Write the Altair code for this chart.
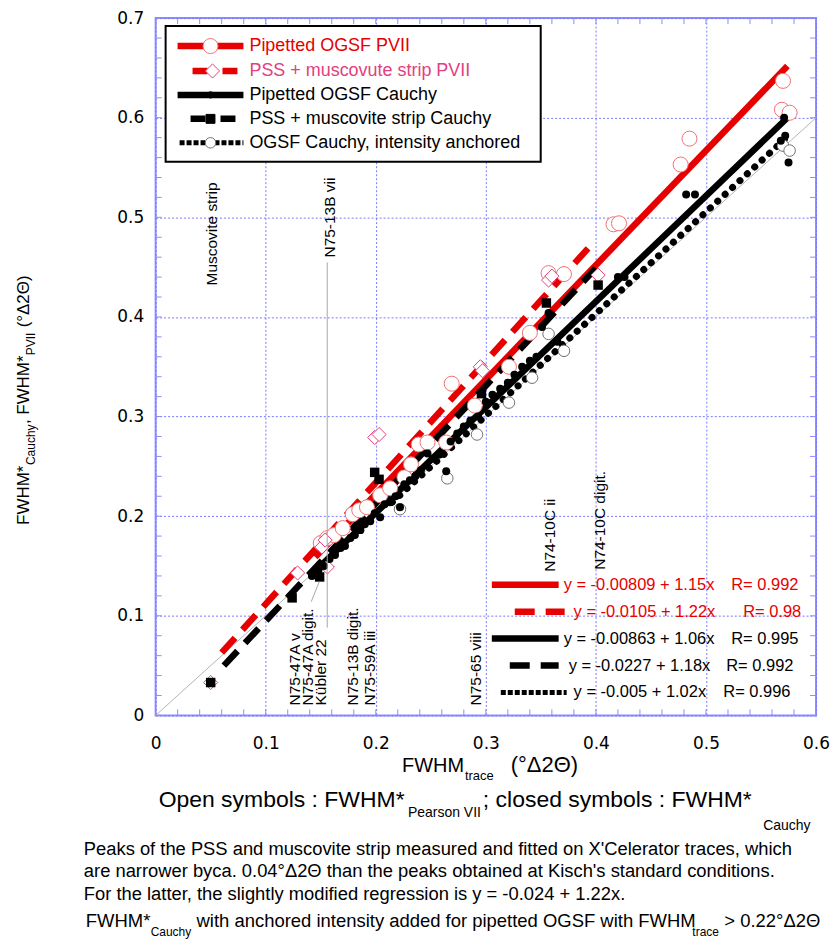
import altair as alt
import pandas as pd

# ---------------- data ----------------
# Pipetted OGSF, FWHM* Pearson VII  (open red circles)
ogsf_pvii_x = [0.150, 0.156, 0.162, 0.170, 0.179, 0.185, 0.192, 0.204, 0.213, 0.226, 0.232, 0.239, 0.247, 0.264,
               0.269, 0.290, 0.321, 0.340, 0.357, 0.371, 0.416, 0.421, 0.477, 0.485, 0.570, 0.569, 0.576]
ogsf_pvii_y = [0.173, 0.178, 0.181, 0.188, 0.202, 0.206, 0.209, 0.221, 0.228, 0.239, 0.252, 0.272, 0.274, 0.274,
               0.333, 0.311, 0.350, 0.384, 0.444, 0.443, 0.493, 0.494, 0.553, 0.579, 0.637, 0.608, 0.605]

# PSS + muscovite strip, Pearson VII (open pink diamonds)
pss_pvii_x = [0.050, 0.129, 0.151, 0.156, 0.154, 0.199, 0.203, 0.295, 0.297, 0.357, 0.360, 0.402]
pss_pvii_y = [0.033, 0.143, 0.169, 0.149, 0.176, 0.279, 0.282, 0.350, 0.346, 0.437, 0.441, 0.442]

# Pipetted OGSF, FWHM* Cauchy (small black dots)
ogsf_cau_x = [0.142, 0.148, 0.153, 0.158, 0.163, 0.168, 0.172, 0.177, 0.181, 0.186, 0.190, 0.195, 0.199, 0.204,
              0.208, 0.213, 0.218, 0.222, 0.226, 0.231, 0.236, 0.241, 0.247, 0.252, 0.258, 0.264, 0.268, 0.274,
              0.280, 0.286, 0.293, 0.300, 0.306, 0.313, 0.320, 0.326, 0.333, 0.340, 0.346, 0.351, 0.357, 0.365,
              0.420, 0.426, 0.482, 0.490, 0.568, 0.572, 0.571, 0.575]
ogsf_cau_y = [0.140, 0.146, 0.150, 0.157, 0.161, 0.168, 0.170, 0.178, 0.181, 0.186, 0.192, 0.195, 0.203, 0.199,
              0.212, 0.214, 0.220, 0.209, 0.232, 0.236, 0.240, 0.246, 0.263, 0.258, 0.262, 0.245, 0.275, 0.283,
              0.290, 0.296, 0.300, 0.315, 0.322, 0.328, 0.334, 0.342, 0.350, 0.356, 0.360, 0.390, 0.404, 0.375,
              0.440, 0.440, 0.523, 0.523, 0.577, 0.582, 0.600, 0.555]

# PSS + muscovite strip, FWHM* Cauchy (black squares)
pss_cau_x = [0.050, 0.124, 0.149, 0.199, 0.203, 0.296, 0.355, 0.402]
pss_cau_y = [0.033, 0.118, 0.139, 0.244, 0.237, 0.323, 0.414, 0.432]

# OGSF Cauchy, intensity anchored (open grey circles)
anch_x = [0.222, 0.265, 0.292, 0.321, 0.342, 0.357, 0.371, 0.570, 0.576]
anch_y = [0.207, 0.238, 0.282, 0.314, 0.339, 0.383, 0.366, 0.572, 0.567]

# regression lines: end points
fit_x0 = [0.145, 0.060, 0.145, 0.062, 0.215]
fit_y0 = [0.159, 0.063, 0.145, 0.050, 0.214]
fit_x1 = [0.574, 0.393, 0.574, 0.400, 0.576]
fit_y1 = [0.652, 0.469, 0.600, 0.449, 0.583]

eq_text = ["y = -0.00809 + 1.15x", "y = -0.0105 + 1.22x", "y = -0.00863 + 1.06x",
           "y = -0.0227 + 1.18x", "y = -0.005 + 1.02x"]
r_text = ["R= 0.992", "R= 0.98", "R= 0.995", "R= 0.992", "R= 0.996"]

legend_labels = ["Pipetted OGSF PVII", "PSS + muscovute strip PVII", "Pipetted OGSF Cauchy",
                 "PSS + muscovite strip Cauchy", "OGSF Cauchy, intensity anchored"]

x_ticks = [0.0, 0.1, 0.2, 0.3, 0.4, 0.5, 0.6]
y_ticks = [0.0, 0.1, 0.2, 0.3, 0.4, 0.5, 0.6, 0.7]
x_minor = [i / 50 for i in range(31)]
y_minor = [i / 50 for i in range(36)]

sample_labels = ["Muscovite strip", "N75-13B vii", "N75-47A v", "N75-47A digit.", "Kübler 22",
                 "N75-13B digit.", "N75-59A iii", "N75-65 viii", "N74-10C ii", "N74-10C digit."]

# ---------------- styles / layout ----------------
W, H = 662, 699
FONT = "Liberation Sans"
RED = "#e60000"
PINK = "#e2407e"
CIRC = "#f07070"
GRID = "#7878ff"
FRAME = "#8c8cff"

xs = alt.Scale(domain=[0, 0.6], nice=False, zero=False)
ys = alt.Scale(domain=[0, 0.7], nice=False, zero=False)
lab = "datum.value == 0 ? '0' : format(datum.value, '.1f')"
xaxis = alt.Axis(values=x_ticks, title=None, domain=False, ticks=False, tickSize=0, grid=True,
                 gridColor=GRID, gridOpacity=1, gridDash=[2, 2], gridWidth=1, labelFont="DejaVu Sans",
                 labelFontSize=17, labelColor="black", labelPadding=20, labelExpr=lab,
                 labelOverlap=False, labelFlush=False)
yaxis = alt.Axis(values=y_ticks, title=None, domain=False, ticks=False, tickSize=0, grid=True,
                 gridColor=GRID, gridOpacity=1, gridDash=[2, 2], gridWidth=1, labelFont="DejaVu Sans",
                 labelFontSize=17, labelColor="black", labelPadding=12, labelExpr=lab,
                 labelOverlap=False, labelFlush=False)


def X(f):
    return alt.X(f, type="quantitative", scale=xs, axis=xaxis)


def Y(f):
    return alt.Y(f, type="quantitative", scale=ys, axis=yaxis)


one = pd.DataFrame({"k": [0]})


def txt(s, x, y, size=16, color="black", align="left", baseline="alphabetic", angle=None, font=FONT):
    kw = dict(text=s, align=align, baseline=baseline, fontSize=size, color=color, font=font)
    if angle is not None:
        kw["angle"] = angle
    return alt.Chart(one).mark_text(**kw).encode(x=alt.value(x), y=alt.value(y))


def hrule(x1, x2, y, color, width, dash=None, cap="butt"):
    kw = dict(color=color, strokeWidth=width, strokeCap=cap)
    if dash:
        kw["strokeDash"] = dash
    return alt.Chart(one).mark_rule(**kw).encode(x=alt.value(x1), x2=alt.value(x2), y=alt.value(y))


def sym(x, y, shape, size, fill, stroke, sw=1.0):
    return alt.Chart(one).mark_point(shape=shape, size=size, filled=True, fill=fill, stroke=stroke,
                                     strokeWidth=sw, opacity=1).encode(x=alt.value(x), y=alt.value(y))


layers = []

# 1:1 diagonal
diag = pd.DataFrame({"x0": [0.0], "y0": [0.0], "x1": [0.6], "y1": [0.6]})
layers.append(alt.Chart(diag).mark_rule(color="#b4b4b4", strokeWidth=1).encode(
    x=X("x0"), y=Y("y0"), x2="x1", y2="y1"))

# inward minor ticks
xt = pd.DataFrame({"t": x_minor})
yt = pd.DataFrame({"t": y_minor})
layers.append(alt.Chart(xt).mark_rule(color=FRAME, strokeWidth=1).encode(x=X("t"), y=alt.value(H), y2=alt.value(H - 6)))
layers.append(alt.Chart(xt).mark_rule(color=FRAME, strokeWidth=1).encode(x=X("t"), y=alt.value(0), y2=alt.value(6)))
layers.append(alt.Chart(yt).mark_rule(color=FRAME, strokeWidth=1).encode(y=Y("t"), x=alt.value(0), x2=alt.value(6)))
layers.append(alt.Chart(yt).mark_rule(color=FRAME, strokeWidth=1).encode(y=Y("t"), x=alt.value(W), x2=alt.value(W - 6)))

# regression lines
fit_styles = [
    dict(color=RED, strokeWidth=6.5, strokeCap="butt"),
    dict(color=RED, strokeWidth=6.5, strokeCap="butt", strokeDash=[20, 11]),
    dict(color="black", strokeWidth=6.5, strokeCap="butt"),
    dict(color="black", strokeWidth=6.5, strokeCap="butt", strokeDash=[20, 11]),
    dict(color="black", strokeWidth=7, strokeCap="round", strokeDash=[0.1, 10]),
]
fits = pd.DataFrame({"x0": fit_x0, "y0": fit_y0, "x1": fit_x1, "y1": fit_y1})
for i, st in enumerate(fit_styles):
    layers.append(alt.Chart(fits.iloc[[i]]).mark_rule(**st).encode(x=X("x0"), y=Y("y0"), x2="x1", y2="y1"))

# symbols
layers.append(alt.Chart(pd.DataFrame({"x": ogsf_pvii_x, "y": ogsf_pvii_y})).mark_point(
    shape="circle", size=227, filled=True, fill="white", stroke=CIRC, strokeWidth=1, opacity=1).encode(x=X("x"), y=Y("y")))
layers.append(alt.Chart(pd.DataFrame({"x": pss_pvii_x, "y": pss_pvii_y})).mark_point(
    shape="diamond", size=200, filled=True, fill="white", stroke=PINK, strokeWidth=1, opacity=1).encode(x=X("x"), y=Y("y")))
layers.append(alt.Chart(pd.DataFrame({"x": anch_x, "y": anch_y})).mark_point(
    shape="circle", size=133, filled=True, fill="white", stroke="#707070", strokeWidth=1, opacity=1).encode(x=X("x"), y=Y("y")))
layers.append(alt.Chart(pd.DataFrame({"x": ogsf_cau_x, "y": ogsf_cau_y})).mark_point(
    shape="circle", size=64, filled=True, color="black", opacity=1).encode(x=X("x"), y=Y("y")))
layers.append(alt.Chart(pd.DataFrame({"x": pss_cau_x, "y": pss_cau_y})).mark_point(
    shape="square", size=90, filled=True, color="black", opacity=1).encode(x=X("x"), y=Y("y")))

# sample annotations (vertical text) and leader lines
layers.append(alt.Chart(one).mark_rule(color="#a8a8a8", strokeWidth=1).encode(
    x=alt.value(172), y=alt.value(245), y2=alt.value(611)))
layers.append(alt.Chart(one).mark_rule(color="#a8a8a8", strokeWidth=1).encode(
    x=alt.value(164), y=alt.value(565), x2=alt.value(156), y2=alt.value(585)))
label_pos = [(57, 268), (175, 240), (140, 689), (153, 689), (166, 689),
             (198, 689), (215, 689), (321, 689), (395, 555), (445, 553)]
for s, (px, py) in zip(sample_labels, label_pos):
    layers.append(txt(s, px, py, size=15.5, angle=270, baseline="middle"))

# legend box
layers.append(alt.Chart(one).mark_rect(fill="white", stroke="black", strokeWidth=2).encode(
    x=alt.value(10), x2=alt.value(386), y=alt.value(8), y2=alt.value(144)))
ly = [28, 53, 77, 101, 125]
layers.append(hrule(22, 88, ly[0], RED, 6.5))
layers.append(sym(55, ly[0], "circle", 227, "white", CIRC))
layers.append(hrule(37, 85, ly[1], RED, 6.5, dash=[15, 15]))
layers.append(sym(57, ly[1], "diamond", 200, "white", PINK))
layers.append(hrule(22, 88, ly[2], "black", 6.5))
layers.append(sym(55, ly[2], "circle", 40, "black", "black"))
layers.append(hrule(35, 85, ly[3], "black", 6.5, dash=[15, 15]))
layers.append(sym(55, ly[3], "square", 80, "black", "black"))
layers.append(hrule(24, 88, ly[4], "black", 5, dash=[5, 2]))
layers.append(sym(55, ly[4], "circle", 110, "white", "#707070"))
leg_colors = [RED, PINK, "black", "black", "black"]
for s, c, y in zip(legend_labels, leg_colors, ly):
    layers.append(txt(s, 94, y, size=18, color=c, baseline="middle"))

# equation block
ey = [568, 595, 622, 649, 676]
eq_line = [(337, 404, None, "butt", 6.5), (360, 410, [20, 11], "butt", 6.5), (337, 404, None, "butt", 6.5),
           (355, 404, [20, 11], "butt", 6.5), (346, 412, [5, 2], "butt", 5)]
eq_tx = [409, 419, 409, 414, 419]
r_tx = [577, 589, 577, 572, 569]
eq_col = [RED, RED, "black", "black", "black"]
for i in range(5):
    a, b, d, cap, w = eq_line[i]
    layers.append(hrule(a, b, ey[i], eq_col[i], w, dash=d, cap=cap))
    layers.append(txt(eq_text[i], eq_tx[i], ey[i], size=16.5, color=eq_col[i], baseline="middle"))
    layers.append(txt(r_text[i], r_tx[i], ey[i], size=16.5, color=eq_col[i], baseline="middle"))

# y axis title (rotated, with subscripts)
layers.append(txt("FWHM*", -127, 508, size=17, angle=270))
layers.append(txt("Cauchy", -121, 448, size=12, angle=270))
layers.append(txt(", FWHM*", -127, 407, size=17, angle=270))
layers.append(txt("PVII", -121, 338, size=12, angle=270))
layers.append(txt("(°Δ2Θ)", -127, 310, size=17, angle=270))

# x axis title
layers.append(txt("FWHM", 247, 756, size=20))
layers.append(txt("trace", 310, 764, size=13))
layers.append(txt("(°Δ2Θ)", 356, 756, size=22))

# notes under the chart
layers.append(txt("Open symbols : FWHM*", 3, 791, size=23))
layers.append(txt("Pearson VII", 253, 801, size=14))
layers.append(txt("; closed symbols : FWHM*", 328, 791, size=23))
layers.append(txt("Cauchy", 609, 814, size=14))
para = ["Peaks of the PSS and muscovite strip measured and fitted on X'Celerator traces, which",
        "are narrower byca. 0.04°Δ2Θ than the peaks obtained at Kisch's standard conditions.",
        "For the latter, the slightly modified regression is y = -0.024 + 1.22x."]
for s, y in zip(para, [839, 861, 884]):
    layers.append(txt(s, -72, y, size=18.4))
layers.append(txt("FWHM*", -70, 911, size=18.5))
layers.append(txt("Cauchy", -5, 920, size=12))
layers.append(txt("with anchored intensity added for pipetted OGSF with FWHM", 41, 911, size=18.5))
layers.append(txt("trace", 538, 920, size=12))
layers.append(txt("> 0.22°Δ2Θ", 570, 911, size=18.5))

chart = alt.layer(*layers).properties(
    width=W, height=H,
    autosize=alt.AutoSizeParams(type="none"),
    padding={"left": 148, "top": 9, "right": 14, "bottom": 224},
).configure_view(stroke=FRAME, strokeWidth=2).configure_axis(
    gridColor=GRID, gridOpacity=1, gridDash=[2, 2]
)

chart.save("out.html", embed_options={"renderer": "svg", "actions": False})
